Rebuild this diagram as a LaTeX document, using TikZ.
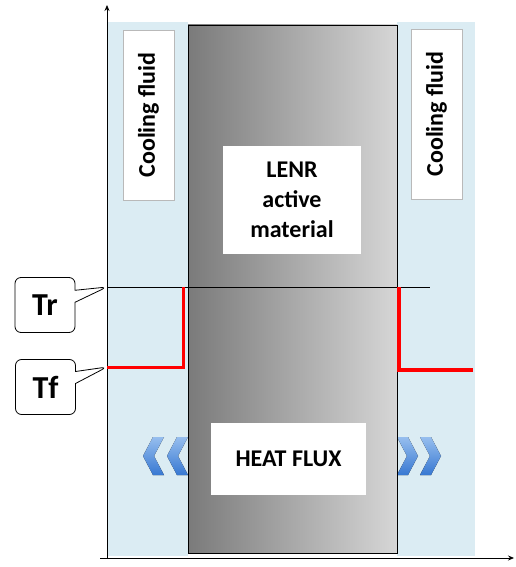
\documentclass[tikz,border=0pt]{standalone}
\usepackage{fontspec}
\setsansfont{Carlito}
\usetikzlibrary{arrows.meta,shapes.callouts}
\definecolor{fluid}{RGB}{219,236,243}
\definecolor{hotred}{RGB}{255,0,0}
\definecolor{chevtop}{RGB}{150,190,238}
\definecolor{chevbot}{RGB}{55,120,210}

\begin{document}
\begin{tikzpicture}[x=1pt, y=-1pt, >={Stealth[length=6pt,width=5pt]},
  every node/.style={font=\sffamily\bfseries\fontsize{24}{30}\selectfont},
  label box/.style={draw=gray!55, fill=white, inner sep=0pt},
  temp/.style={rectangle callout, rounded corners=6pt, draw, fill=white, thick,
    minimum width=60pt, minimum height=55pt, callout pointer width=12pt,
    font=\sffamily\bfseries\fontsize{32}{36}\selectfont},
  chev/.style={top color=chevtop, bottom color=chevbot, draw=none}]
\path[use as bounding box] (0,0) rectangle (515,567);
% coolant on both sides
\fill[fluid] (107,22) rectangle (188,556);
\fill[fluid] (397,22) rectangle (475,556);
% heat flux chevrons
\foreach \a in {143,167} {
  \fill[chev] (\a,456) -- (\a+10,437) -- (\a+21,437) -- (\a+11,456) -- (\a+21,475) -- (\a+10,475) -- cycle;
}
\foreach \a in {418,441} {
  \fill[chev] (\a,456) -- (\a-10,437) -- (\a-21,437) -- (\a-11,456) -- (\a-21,475) -- (\a-10,475) -- cycle;
}
\node[draw, thick, minimum width=209pt, minimum height=528pt, inner sep=0pt,
  left color=black!52, right color=black!16] (core) at (292.5,289) {};
\node[label box, minimum width=51pt, minimum height=170pt] (coolL) at (148.5,115) {};
\node[rotate=90] at (coolL) {Cooling fluid};
\node[label box, minimum width=51pt, minimum height=170pt] (coolR) at (436.5,114) {};
\node[rotate=90] at (coolR) {Cooling fluid};
\node[fill=white, minimum width=138pt, minimum height=108pt, align=center, inner sep=0pt]
  (lenr) at (292,200) {LENR\\active\\material};
\node[fill=white, minimum width=155pt, minimum height=72pt] (heat) at (288.5,459) {HEAT FLUX};
% axes
\coordinate (O) at (107,558);
\coordinate (xstart) at (100,558);
\coordinate (xend) at (514,558);
\coordinate (yend) at (107,5);
\draw[->, thick] (xstart) -- (xend);
\draw[->, thick] (O) -- (yend);
% temperatures
\coordinate (trL) at (107,287);
\coordinate (trR) at (430,287);
\coordinate (tfL) at (107,367);
\coordinate (tfR) at (473,370);
\draw (trL) -- (trR);
\draw[hotred, line width=3pt] (tfL) -- (183,367) -- (183,287);
\draw[hotred, line width=4.5pt] (399,287) -- (399,370) -- (tfR);
\node[temp, callout absolute pointer={(trL)}] (Tr) at (45,305) {Tr};
\node[temp, callout absolute pointer={(tfL)}] (Tf) at (45.5,387) {Tf};
\end{tikzpicture}
\end{document}
